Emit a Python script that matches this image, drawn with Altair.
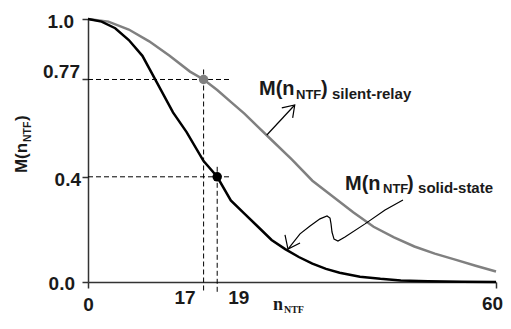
import altair as alt
import pandas as pd

# ---------------- data ----------------
relay_n = [0, 3, 6, 9, 12, 15, 17, 19, 21, 23, 25, 27, 30, 33, 36, 39, 42, 45, 48, 51, 54, 57, 60]
relay_m = [1.0, 0.99, 0.96, 0.915, 0.86, 0.80, 0.77, 0.73, 0.685, 0.64, 0.59, 0.54, 0.465,
           0.385, 0.325, 0.265, 0.21, 0.17, 0.135, 0.108, 0.085, 0.062, 0.04]

solid_n = [0, 2, 4, 6, 8, 10, 12.5, 14.5, 17, 19, 21, 23, 25, 27, 29, 31, 33, 35, 37, 40,
           43, 46, 50, 55, 60]
solid_m = [1.0, 0.99, 0.965, 0.92, 0.86, 0.765, 0.645, 0.57, 0.46, 0.40, 0.31, 0.26, 0.21,
           0.16, 0.125, 0.095, 0.07, 0.05, 0.035, 0.02, 0.012, 0.006, 0.003, 0.001, 0.0]

marker_series = ["silent-relay", "solid-state"]
marker_n = [17, 19]
marker_m = [0.77, 0.4]
guide_end = 20.9

x_ticks = [0, 17, 19, 60]
y_ticks = [0.0, 0.4, 0.77, 1.0]
y_tick_labels = ["0.0", "0.4", "0.77", "1.0"]

# annotation arrows (data coordinates)
relay_arrow_n = [26.3, 30.4]
relay_arrow_m = [0.559, 0.673]
relay_head_n = [28.5, 30.4, 30.1]
relay_head_m = [0.662, 0.673, 0.624]

solid_arrow_n = [46.32, 43.68, 40.74, 37.79, 36.76, 36.18, 35.88, 35.74, 35.59, 35.15,
                 34.12, 32.65, 31.18, 29.41]
solid_arrow_m = [0.312, 0.274, 0.221, 0.171, 0.156, 0.163, 0.190, 0.221, 0.243, 0.251,
                 0.240, 0.213, 0.183, 0.125]
solid_head_n = [28.97, 29.41, 31.18]
solid_head_m = [0.179, 0.125, 0.148]

# ---------------- frames ----------------
curves = pd.concat([
    pd.DataFrame({"n": relay_n, "M": relay_m, "series": "silent-relay"}),
    pd.DataFrame({"n": solid_n, "M": solid_m, "series": "solid-state"}),
])
markers = pd.DataFrame({"series": marker_series, "n": marker_n, "M": marker_m})

def path(name, ns, ms):
    return pd.DataFrame({"path": name, "n": ns, "M": ms, "o": list(range(len(ns)))})

arrows = pd.concat([
    path("r1", relay_arrow_n, relay_arrow_m),
    path("r2", relay_head_n, relay_head_m),
    path("s1", solid_arrow_n, solid_arrow_m),
    path("s2", solid_head_n, solid_head_m),
])

FONT = "Liberation Sans"
SERIF = "Liberation Serif"
INK = "#1a1a1a"

xs = alt.Scale(domain=[0, 60], nice=False, zero=False)
ys = alt.Scale(domain=[0, 1], nice=False, zero=False)

x_axis = alt.Axis(
    values=x_ticks, title=None, grid=False, format="d",
    domainColor="#333333", domainWidth=1.5,
    tickColor="#333333", tickWidth=1.5, tickSize=6,
    tickOpacity={"condition": {"test": "datum.value == 17 || datum.value == 19", "value": 0}, "value": 1},
    labelFont=FONT, labelFontSize=19, labelFontWeight="bold", labelColor=INK,
    labelOffset={"condition": [{"test": "datum.value == 17", "value": -19},
                               {"test": "datum.value == 19", "value": 21},
                               {"test": "datum.value == 60", "value": -4}], "value": 0},
    labelPadding={"condition": [{"test": "datum.value == 0", "value": 7},
                                {"test": "datum.value == 60", "value": 6}], "value": 0},
    labelFlush=False, labelOverlap=False,
)
y_axis = alt.Axis(
    values=y_ticks, title=None, grid=False, labels=False,
    domainColor="#333333", domainWidth=1.5,
    tickColor="#333333", tickWidth=1.5, tickSize=6,
)

lines = alt.Chart(curves).mark_line(strokeWidth=2.5, clip=False).encode(
    x=alt.X("n:Q", scale=xs, axis=x_axis),
    y=alt.Y("M:Q", scale=ys, axis=y_axis),
    color=alt.Color("series:N", scale=alt.Scale(domain=marker_series, range=["#808080", "#000000"]), legend=None),
)

vguides = alt.Chart(markers).mark_rule(
    color="black", strokeWidth=1, strokeDash=[5, 3], yOffset=-10, y2Offset=11
).encode(x="n:Q", y="M:Q", y2=alt.datum(0))

hguides = alt.Chart(markers).mark_rule(
    color="black", strokeWidth=1, strokeDash=[5, 3]
).encode(x=alt.datum(0), x2=alt.datum(guide_end), y="M:Q")

points = alt.Chart(markers).mark_circle(size=90, opacity=1).encode(
    x="n:Q", y="M:Q",
    color=alt.Color("series:N", scale=alt.Scale(domain=marker_series, range=["#6a6a6a", "#000000"]), legend=None),
)

arrow_lines = alt.Chart(arrows).mark_line(color="black", strokeWidth=1.2).encode(
    x="n:Q", y="M:Q", detail="path:N", order="o:Q"
)

# y tick labels as text marks (per-label nudges like the original figure)
y_nudge = {"0.0": (-13, 2), "0.4": (-7, 3), "0.77": (-8, -7), "1.0": (-14, 3)}
y_labels = []
for v, lab in zip(y_ticks, y_tick_labels):
    dx, dy = y_nudge[lab]
    y_labels.append(
        alt.Chart(pd.DataFrame({"v": [v], "lab": [lab]})).mark_text(
            align="right", baseline="middle", dx=dx, dy=dy,
            font=FONT, fontSize=19, fontWeight="bold", color=INK,
        ).encode(x=alt.datum(0), y="v:Q", text="lab:N")
    )

def rich(n, m, pieces, angle=0):
    layers = []
    for text, dx, dy, size, font in pieces:
        layers.append(
            alt.Chart(pd.DataFrame({"t": [text]})).mark_text(
                align="left", baseline="alphabetic", dx=dx, dy=dy, angle=angle,
                font=font, fontSize=size, fontWeight="bold", color=INK,
            ).encode(x=alt.datum(n), y=alt.datum(m), text="t:N")
        )
    return layers

relay_label = rich(25.15, 0.711, [("M(n", 0, 0, 20, FONT), ("NTF", 37, 4, 13, FONT),
                                   (")", 62, 0, 20, FONT), ("silent-relay", 73, 4, 15, FONT)])
solid_label = rich(37.8, 0.350, [("M(n", 0, 0, 20, FONT), ("NTF", 38, 3, 13, FONT),
                                  (")", 62, 0, 20, FONT), ("solid-state", 73, 3, 15, FONT)])
y_title = rich(-8.97, 0.414, [("M(n", 0, 0, 17, FONT), ("NTF", 31, 4, 10.5, FONT),
                               (")", 52, 0, 17, FONT)], angle=270)
x_title = rich(27.2, -0.106, [("n", 0, 0, 18, SERIF), ("NTF", 11, 3, 10, SERIF)])

chart = alt.layer(
    lines, hguides, vguides, points, arrow_lines,
    *y_labels, *relay_label, *solid_label, *y_title, *x_title,
).properties(
    width=408, height=263,
    autosize=alt.AutoSizeParams(type="none"),
    padding={"left": 80, "top": 11, "right": 7, "bottom": 35},
).configure_view(stroke=None)

chart.save("out.html", embed_options={"renderer": "svg", "actions": False})
